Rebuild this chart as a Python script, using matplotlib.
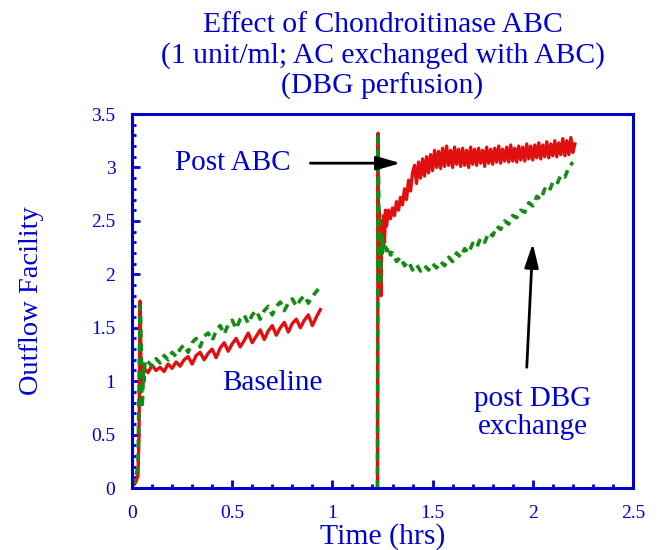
import numpy as np
import matplotlib
matplotlib.use('Agg')
import matplotlib.pyplot as plt
from matplotlib.ticker import MultipleLocator

# Colours
BLUE = '#0000d0'
RED = '#e01010'
GREEN = '#158a15'

# Baseline run, red trace (solid)
base_red_t_start = [0.0, 0.01, 0.02, 0.03, 0.035, 0.038, 0.04, 0.043, 0.046,
                    0.05, 0.053, 0.056]
base_red_v_start = [0.05, 0.03, 0.06, 0.12, 0.5, 1.2, 1.75, 1.4, 0.9,
                    1.0, 1.15, 1.05]
base_red_v = [1.12, 1.08, 1.15, 1.10, 1.13, 1.09, 1.16, 1.12, 1.18, 1.14,
              1.20, 1.23, 1.16, 1.24, 1.27, 1.20, 1.26, 1.30, 1.22, 1.31,
              1.36, 1.28, 1.35, 1.40, 1.32, 1.38, 1.45, 1.36, 1.42, 1.48,
              1.39, 1.47, 1.52, 1.43, 1.50, 1.55, 1.46, 1.54, 1.58, 1.50,
              1.57, 1.62, 1.52, 1.60, 1.67]

# Baseline run, green trace (dashed)
base_green_t_start = [0.0, 0.01, 0.02, 0.03, 0.035, 0.04, 0.043, 0.047,
                      0.05, 0.053, 0.057, 0.06, 0.065]
base_green_v_start = [0.1, 0.05, 0.12, 0.2, 0.9, 1.7, 1.6, 1.2,
                      0.75, 0.85, 1.1, 1.0, 1.2]
base_green_v = [1.18, 1.14, 1.21, 1.17, 1.24, 1.20, 1.27, 1.23, 1.30, 1.34,
                1.27, 1.36, 1.40, 1.32, 1.42, 1.45, 1.38, 1.47, 1.52, 1.44,
                1.53, 1.57, 1.49, 1.58, 1.62, 1.54, 1.62, 1.66, 1.58, 1.66,
                1.70, 1.62, 1.70, 1.74, 1.66, 1.73, 1.77, 1.70, 1.76, 1.80,
                1.73, 1.79, 1.84, 1.88]

# Post ABC run, red trace
post_red_t_start = [1.225, 1.228, 1.231, 1.234, 1.237, 1.24, 1.243, 1.246,
                    1.25, 1.255, 1.26, 1.265, 1.27, 1.28, 1.29, 1.30, 1.31,
                    1.32, 1.33, 1.34, 1.35, 1.36, 1.37, 1.38, 1.39, 1.40]
post_red_v_start = [0.0, 3.32, 1.9, 2.6, 2.1, 2.45, 1.8, 2.5,
                    2.2, 2.55, 2.3, 2.6, 2.45, 2.6, 2.52, 2.62, 2.55,
                    2.68, 2.60, 2.72, 2.65, 2.80, 2.70, 2.88, 2.78, 2.95]
post_red_v = [3.02, 2.85, 3.05, 2.90, 3.08, 2.92, 3.10, 2.95, 3.12, 2.97,
              3.16, 3.00, 3.15, 2.99, 3.18, 3.01, 3.20, 3.02, 3.16, 3.00,
              3.19, 3.03, 3.17, 3.01, 3.18, 3.02, 3.16, 3.00, 3.19, 3.03,
              3.17, 3.02, 3.18, 3.04, 3.16, 3.01, 3.19, 3.04, 3.17, 3.03,
              3.18, 3.05, 3.20, 3.04, 3.17, 3.06, 3.19, 3.05, 3.21, 3.06,
              3.18, 3.05, 3.20, 3.07, 3.19, 3.06, 3.22, 3.08, 3.20, 3.07,
              3.21, 3.09, 3.23, 3.08, 3.21, 3.10, 3.24, 3.09, 3.22, 3.11,
              3.25, 3.10, 3.23, 3.12, 3.27, 3.11, 3.25, 3.12, 3.28, 3.14,
              3.22]

# Post DBG exchange run, green trace
post_green_t_start = [1.225, 1.228, 1.232, 1.236, 1.24, 1.243, 1.247, 1.25,
                      1.255, 1.26, 1.27, 1.28, 1.29, 1.30]
post_green_v_start = [0.0, 3.32, 2.6, 2.3, 1.9, 2.4, 2.2, 2.35,
                      2.25, 2.3, 2.22, 2.26, 2.18, 2.2]
post_green_v = [2.12, 2.16, 2.08, 2.12, 2.04, 2.09, 2.03, 2.08, 2.04, 2.10,
                2.06, 2.12, 2.08, 2.16, 2.12, 2.20, 2.16, 2.24, 2.20, 2.29,
                2.25, 2.34, 2.30, 2.39, 2.36, 2.45, 2.42, 2.50, 2.47, 2.55,
                2.53, 2.60, 2.58, 2.67, 2.64, 2.73, 2.70, 2.80, 2.77, 2.86,
                2.84, 2.93, 2.91, 3.00, 3.05]

ARROW = '-|>,head_length=1.45,head_width=0.42'


def main():
    plt.rcParams['font.family'] = ['Liberation Serif', 'DejaVu Serif']

    fig = plt.figure(figsize=(6.61, 5.5), dpi=100)
    ax = fig.add_axes([0.1997, 0.1127, 0.7579, 0.68])

    # Sample times (regular grid after the start-up transients)
    base_red_t = 0.06 + 0.02 * np.arange(len(base_red_v))
    base_green_t = 0.08 + 0.02 * np.arange(len(base_green_v))
    post_red_t = 1.41 + 0.01 * np.arange(len(post_red_v))
    post_green_t = 1.32 + 0.02 * np.arange(len(post_green_v))

    # Red traces first, green dashed on top
    ax.plot(base_red_t_start + list(base_red_t),
            base_red_v_start + base_red_v, color=RED, lw=2.4)
    ax.plot(post_red_t_start + list(post_red_t),
            post_red_v_start + post_red_v, color=RED, lw=2.4)
    ax.plot(base_green_t_start + list(base_green_t),
            base_green_v_start + base_green_v, color=GREEN, lw=2.6,
            dashes=(2.2, 1.6))
    ax.plot(post_green_t_start + list(post_green_t),
            post_green_v_start + post_green_v, color=GREEN, lw=2.6,
            dashes=(2.2, 1.6))

    # Axis limits and ticks
    ax.set_xlim(0, 2.5)
    ax.set_ylim(0, 3.5)
    ax.xaxis.set_minor_locator(MultipleLocator(0.1))
    ax.yaxis.set_minor_locator(MultipleLocator(0.1))
    ax.set_xticks([0, 0.5, 1, 1.5, 2, 2.5])
    ax.set_xticklabels(['0', '0.5', '1', '1.5', '2', '2.5'])
    ax.set_yticks([0, 0.5, 1, 1.5, 2, 2.5, 3, 3.5])
    ax.set_yticklabels(['0', '0.5', '1', '1.5', '2', '2.5', '3', '3.5'])
    ax.tick_params(which='both', direction='in', color=BLUE, width=2,
                   labelcolor=BLUE, labelsize=14)
    ax.tick_params(which='major', length=6)
    ax.tick_params(which='minor', length=3)
    ax.tick_params(axis='x', pad=12)
    ax.tick_params(axis='y', pad=12)
    for spine in ax.spines.values():
        spine.set_color(BLUE)
        spine.set_linewidth(2.2)

    # Labels and title
    ax.set_xlabel('Time (hrs)', color=BLUE, fontsize=21.4, labelpad=1)
    ax.set_ylabel('Outflow Facility', color=BLUE, fontsize=20.5,
                  labelpad=34)
    ax.set_title('Effect of Chondroitinase ABC\n'
                 '(1 unit/ml; AC exchanged with ABC)\n'
                 '(DBG perfusion)', color=BLUE, fontsize=21.3,
                 linespacing=1.17, pad=15)

    # Annotations
    ax.annotate('', xy=(1.34, 3.04), xytext=(0.89, 3.04),
                arrowprops=dict(arrowstyle=ARROW, color='black', lw=2,
                                shrinkA=0, shrinkB=0))
    ax.text(0.505, 3.04, 'Post ABC', color=BLUE, fontsize=21,
            ha='center', va='center')
    ax.text(0.70, 0.98, 'Baseline', color=BLUE, fontsize=21,
            ha='center', va='center')
    ax.annotate('', xy=(2.0, 2.29), xytext=(1.97, 1.13),
                arrowprops=dict(arrowstyle=ARROW, color='black', lw=2,
                                shrinkA=0, shrinkB=0))
    ax.text(2.0, 0.70, 'post DBG\nexchange', color=BLUE, fontsize=21,
            ha='center', va='center', linespacing=1.1)

    # Save the graph.
    fig.savefig('out.png', dpi=100)


# Call the main function.
if __name__ == '__main__':
    main()
